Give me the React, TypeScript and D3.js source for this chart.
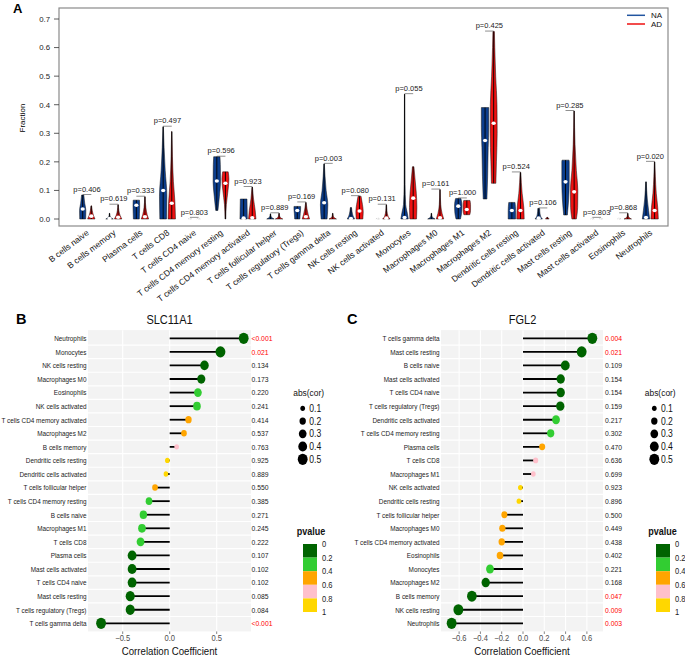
import React from "react";
import * as d3 from "d3";

// ---------------- Panel A data ----------------
const cellTypes = [
  "B cells naive", "B cells memory", "Plasma cells", "T cells CD8", "T cells CD4 naive",
  "T cells CD4 memory resting", "T cells CD4 memory activated", "T cells follicular helper",
  "T cells regulatory (Tregs)", "T cells gamma delta", "NK cells resting", "NK cells activated",
  "Monocytes", "Macrophages M0", "Macrophages M1", "Macrophages M2", "Dendritic cells resting",
  "Dendritic cells activated", "Mast cells resting", "Mast cells activated", "Eosinophils", "Neutrophils",
];
const pLabels = [
  "0.406", "0.619", "0.333", "0.497", "0.803", "0.596", "0.923", "0.889", "0.169", "0.003", "0.080",
  "0.131", "0.055", "0.161", "1.000", "0.425", "0.524", "0.106", "0.285", "0.803", "0.868", "0.020",
];
const fractionTicks = [0, 0.1, 0.2, 0.3, 0.4, 0.5, 0.6, 0.7];

// medians
const naMedian = [0.035, 0.002, 0.048, 0.1, 0, 0.133, 0.003, 0, 0.03, 0.057, 0.002, 0, 0.005, 0, 0.045, 0.275, 0.03, 0.003, 0.13, 0, 0, 0.005];
const adMedian = [0.01, 0.006, 0.008, 0.055, 0, 0.125, 0.004, 0, 0.008, 0, 0.028, 0.003, 0.073, 0.004, 0.033, 0.335, 0.03, 0, 0.095, 0, 0, 0.03];

// violin outlines: [value, relative half width] from bottom to top
type Prof = [number, number][];
const naProfile: Prof[] = [
  [[0, 0.8], [0.03, 0.85], [0.055, 0.55], [0.084, 0.3]],
  [[0, 1], [0.005, 0.35], [0.012, 0.12], [0.02, 0.05]],
  [[0, 0.8], [0.02, 0.85], [0.045, 0.9], [0.066, 0.85]],
  [[0, 0.9], [0.08, 1], [0.17, 0.55], [0.25, 0.25], [0.323, 0.06]],
  [[0, 0.5], [0.004, 0.1]],
  [[0.03, 0.3], [0.08, 0.7], [0.13, 1], [0.19, 0.95], [0.218, 0.85]],
  [[0, 1], [0.035, 0.95], [0.07, 0.9]],
  [[0, 1], [0.005, 0.35], [0.012, 0.12], [0.018, 0.05]],
  [[0, 0.7], [0.02, 0.8], [0.035, 0.9], [0.044, 0.9]],
  [[0, 0.8], [0.05, 1], [0.1, 0.55], [0.15, 0.25], [0.193, 0.06]],
  [[0, 1], [0.01, 0.6], [0.025, 0.3], [0.04, 0.15]],
  [[0, 0.5], [0.004, 0.1]],
  [[0, 1], [0.02, 0.75], [0.05, 0.3], [0.12, 0.12], [0.25, 0.07], [0.437, 0.04]],
  [[0, 1], [0.005, 0.35], [0.012, 0.12], [0.02, 0.05]],
  [[0, 0.6], [0.02, 0.9], [0.045, 1], [0.065, 0.85], [0.072, 0.7]],
  [[0.07, 0.5], [0.15, 0.7], [0.25, 0.85], [0.32, 1], [0.39, 1]],
  [[0, 1], [0.03, 1], [0.058, 0.85]],
  [[0, 1], [0.01, 0.5], [0.025, 0.3], [0.037, 0.25]],
  [[0.014, 0.5], [0.07, 0.85], [0.13, 1], [0.2, 1], [0.206, 0.95]],
  [[0, 0.5], [0.004, 0.1]],
  [[0, 0.5], [0.004, 0.1]],
  [[0, 1], [0.03, 0.7], [0.07, 0.35], [0.13, 0.08]],
];
const adProfile: Prof[] = [
  [[0, 1], [0.012, 0.6], [0.03, 0.25], [0.046, 0.08]],
  [[0, 1], [0.012, 0.55], [0.03, 0.2], [0.05, 0.06]],
  [[0, 1], [0.015, 0.6], [0.04, 0.25], [0.078, 0.06]],
  [[0, 1], [0.06, 0.85], [0.13, 0.45], [0.22, 0.18], [0.306, 0.05]],
  [[0, 0.5], [0.004, 0.1]],
  [[0, 0.1], [0.05, 0.25], [0.1, 0.7], [0.14, 0.95], [0.165, 0.75]],
  [[0, 1], [0.03, 0.8], [0.07, 0.35], [0.112, 0.06]],
  [[0, 1], [0.005, 0.35], [0.013, 0.12], [0.02, 0.05]],
  [[0, 1], [0.015, 0.65], [0.035, 0.3], [0.058, 0.06]],
  [[0, 1], [0.005, 0.35], [0.012, 0.12], [0.02, 0.05]],
  [[0, 0.9], [0.025, 1], [0.05, 0.8], [0.08, 0.4]],
  [[0, 1], [0.01, 0.45], [0.03, 0.15], [0.05, 0.05]],
  [[0, 0.9], [0.04, 1], [0.09, 0.85], [0.14, 0.5], [0.183, 0.2]],
  [[0, 1], [0.02, 0.55], [0.05, 0.2], [0.103, 0.05]],
  [[0.015, 0.8], [0.03, 1], [0.05, 1], [0.065, 0.85]],
  [[0.125, 0.6], [0.2, 0.75], [0.3, 0.95], [0.4, 0.9], [0.5, 0.55], [0.6, 0.3], [0.656, 0.2]],
  [[0, 1], [0.04, 0.9], [0.09, 0.45], [0.163, 0.1]],
  [[0, 0.5], [0.006, 0.1]],
  [[0, 0.6], [0.04, 0.95], [0.1, 1], [0.17, 0.6], [0.26, 0.25], [0.378, 0.06]],
  [[0, 0.5], [0.004, 0.1]],
  [[0, 1], [0.005, 0.35], [0.012, 0.12], [0.02, 0.05]],
  [[0, 1], [0.04, 0.85], [0.09, 0.45], [0.15, 0.2], [0.2, 0.06]],
];
const groupNames = ["NA", "AD"];
const groupColors = ["#0b3d8c", "#ee1111"];

// ---------------- Panel B data (SLC11A1) ----------------
const bCells = [
  "Neutrophils", "Monocytes", "NK cells resting", "Macrophages M0", "Eosinophils", "NK cells activated",
  "T cells CD4 memory activated", "Macrophages M2", "B cells memory", "Dendritic cells resting",
  "Dendritic cells activated", "T cells follicular helper", "T cells CD4 memory resting", "B cells naive",
  "Macrophages M1", "T cells CD8", "Plasma cells", "Mast cells activated", "T cells CD4 naive",
  "Mast cells resting", "T cells regulatory (Tregs)", "T cells gamma delta",
];
const bCor = [0.787, 0.54, 0.37, 0.336, 0.3, 0.29, 0.2, 0.152, 0.074, -0.025, -0.04, -0.156, -0.22, -0.28, -0.295, -0.31, -0.4, -0.4, -0.4, -0.42, -0.42, -0.73];
const bP = ["<0.001", "0.021", "0.134", "0.173", "0.220", "0.241", "0.414", "0.537", "0.763", "0.925", "0.889", "0.550", "0.385", "0.271", "0.245", "0.222", "0.107", "0.102", "0.102", "0.085", "0.084", "<0.001"];
const bTicks = [-0.5, 0, 0.5];

// ---------------- Panel C data (FGL2) ----------------
const cCells = [
  "T cells gamma delta", "Mast cells resting", "B cells naive", "Mast cells activated", "T cells CD4 naive",
  "T cells regulatory (Tregs)", "Dendritic cells activated", "T cells CD4 memory resting", "Plasma cells",
  "T cells CD8", "Macrophages M1", "NK cells activated", "Dendritic cells resting", "T cells follicular helper",
  "Macrophages M0", "T cells CD4 memory activated", "Eosinophils", "Monocytes", "Macrophages M2",
  "B cells memory", "NK cells resting", "Neutrophils",
];
const cCor = [0.651, 0.551, 0.397, 0.354, 0.354, 0.35, 0.31, 0.26, 0.18, 0.119, 0.097, -0.025, -0.038, -0.175, -0.194, -0.2, -0.216, -0.31, -0.35, -0.48, -0.607, -0.67];
const cP = ["0.004", "0.021", "0.109", "0.154", "0.154", "0.159", "0.217", "0.302", "0.470", "0.636", "0.699", "0.923", "0.896", "0.500", "0.449", "0.438", "0.402", "0.221", "0.168", "0.047", "0.009", "0.003"];
const cTicks = [-0.6, -0.4, -0.2, 0, 0.2, 0.4, 0.6];

const sizeBreaks = [0.1, 0.2, 0.3, 0.4, 0.5];
const pBreaks = ["0", "0.2", "0.4", "0.6", "0.8", "1"];
const pColors = ["#006400", "#32CD32", "#FFA500", "#FFC0CB", "#FFD700"];

const FONT = "'Liberation Sans', Arial, Helvetica, sans-serif";

function T(props: {
  x: number; y: number; size: number; children: React.ReactNode; anchor?: string; sx?: number;
  fill?: string; weight?: string | number; rotate?: number;
}) {
  const { x, y, size, children, anchor = "start", sx = 1, fill = "#000", weight = "normal", rotate = 0 } = props;
  return (
    <text
      transform={`translate(${x},${y}) rotate(${rotate}) scale(${sx},1)`}
      fontSize={size}
      fontFamily={FONT}
      textAnchor={anchor}
      fill={fill}
      fontWeight={weight}
    >
      {children}
    </text>
  );
}

function PanelA() {
  const x = d3.scalePoint<string>().domain(cellTypes).range([87, 650.3]);
  const y = d3.scaleLinear().domain([0, 0.7]).range([219, 19]);
  const HW = 3.7;
  const off = 4.3;
  const left = 59, right = 668, top = 8, bottom = 226;

  const violin = (cx: number, prof: Prof) =>
    d3
      .area<[number, number]>()
      .y((d) => y(d[0]))
      .x0((d) => cx - d[1] * HW)
      .x1((d) => cx + d[1] * HW)
      .curve(d3.curveMonotoneY)(prof) || "";

  return (
    <g>
      <T x={13} y={13} size={13} weight="bold">A</T>
      <rect x={left} y={top} width={right - left} height={bottom - top} fill="none" stroke="#8a8a8a" strokeWidth={1.2} />
      {fractionTicks.map((t) => (
        <g key={t}>
          <line x1={left - 5} x2={left} y1={y(t)} y2={y(t)} stroke="#333" strokeWidth={0.8} />
          <T x={50} y={y(t) + 2.8} size={7.8} anchor="end" fill="#222">{t.toFixed(1)}</T>
        </g>
      ))}
      <T x={25} y={118} size={8} anchor="middle" rotate={-90}>Fraction</T>

      {cellTypes.map((c, i) => {
        const cx = x(c) as number;
        const profs = [naProfile[i], adProfile[i]];
        const meds = [naMedian[i], adMedian[i]];
        const maxV = Math.max(naProfile[i][naProfile[i].length - 1][0], adProfile[i][adProfile[i].length - 1][0]);
        const tiny = (p: Prof) => p[p.length - 1][0] < 0.006;
        return (
          <g key={c}>
            {profs.map((p, g) => {
              const vx = cx + (g === 0 ? -off : off);
              const lo = p[0][0];
              const hi = p[p.length - 1][0];
              if (tiny(p)) {
                return (
                  <path key={g} d={violin(vx, p)} fill="none" stroke="#bbb" strokeWidth={0.6} strokeDasharray="1.5,1.5" />
                );
              }
              return (
                <g key={g}>
                  <path d={violin(vx, p)} fill={groupColors[g]} stroke="#111" strokeWidth={0.5} />
                  <line x1={vx} x2={vx} y1={y(lo)} y2={y(hi)} stroke="#000" strokeWidth={0.9} />
                  {meds[g] > 0.001 && <ellipse cx={vx} cy={y(meds[g])} rx={2.1} ry={1.8} fill="#fff" />}
                </g>
              );
            })}
            <line x1={cx - off} x2={cx + off} y1={y(maxV) - 0.5} y2={y(maxV) - 0.5} stroke="#444" strokeWidth={0.6} />
            <T x={cx} y={y(maxV) - 3.3} size={7.5} anchor="middle" fill="#222">{`p=${pLabels[i]}`}</T>
            <T x={cx + 2.5} y={234} size={8.5} anchor="end" rotate={-37} fill="#111">{c}</T>
          </g>
        );
      })}

      {groupNames.map((g, k) => (
        <g key={g}>
          <line x1={627} x2={645} y1={15.3 + k * 8.7} y2={15.3 + k * 8.7} stroke={k === 0 ? "#2255a0" : "#ee1111"} strokeWidth={1.5} />
          <T x={651} y={18.3 + k * 8.7} size={8} fill="#111">{g}</T>
        </g>
      ))}
    </g>
  );
}

function Lollipop(props: {
  letter: string; letterX: number; title: string; titleX: number;
  cells: string[]; cors: number[]; ps: string[]; ticks: number[];
  tickPx: [number, number]; tickVals: [number, number];
  panelL: number; panelR: number; pTextX: number;
  legX: number; barX: number;
}) {
  const { letter, letterX, title, titleX, cells, cors, ps, ticks, tickPx, tickVals, panelL, panelR, pTextX, legX, barX } = props;
  const y = d3.scalePoint<string>().domain(cells).range([338.3, 623.3]);
  const step = y.step();
  const x = d3.scaleLinear().domain(tickVals).range(tickPx);
  const area = d3.scaleLinear().domain([0.1, 0.5]).range([7.0, 31.4]).clamp(true);
  const ry = (v: number) => Math.sqrt(area(Math.abs(v)));
  const pNum = (s: string) => (s.startsWith("<") ? 0.0005 : +s);
  const col = (p: number) => pColors[Math.min(4, Math.floor(p / 0.2))];
  const top = 338.3 - step * 0.6;
  const bot = 623.3 + step * 0.6;
  const fmt = (t: number) => (t < 0 ? "\u2212" : "") + Math.abs(t).toFixed(1);
  const SX = 0.86;
  const barY0 = 544, barH = 13.6;

  return (
    <g>
      <T x={letterX} y={324} size={14.5} weight="bold">{letter}</T>
      <T x={titleX} y={323.5} size={12.5} anchor="middle" sx={0.88} fill="#111">{title}</T>
      <rect x={panelL} y={top} width={panelR - panelL} height={bot - top} fill="#f3f3f3" />
      {cells.slice(1).map((c) => {
        const yy = (y(c) as number) - step / 2;
        return <line key={c} x1={panelL} x2={panelR} y1={yy} y2={yy} stroke="#fff" strokeWidth={1.2} />;
      })}
      {ticks.map((t) => (
        <line key={t} x1={x(t)} x2={x(t)} y1={top} y2={bot} stroke="#fff" strokeWidth={1.1} />
      ))}
      {cells.map((c, i) => {
        const yy = y(c) as number;
        const r = ry(cors[i]);
        const p = pNum(ps[i]);
        return (
          <g key={c}>
            <T x={panelL - 1.5} y={yy + 2.8} size={7.9} sx={0.81} anchor="end" fill="#222">{c}</T>
            <line x1={x(0)} x2={x(cors[i])} y1={yy} y2={yy} stroke="#000" strokeWidth={1.8} />
            <ellipse cx={x(cors[i])} cy={yy} rx={r * 0.88} ry={r} fill={col(p)} />
            <T x={pTextX} y={yy + 2.8} size={7.9} sx={SX} fill={p < 0.05 ? "#ff0000" : "#222"}>{ps[i]}</T>
          </g>
        );
      })}
      {ticks.map((t) => (
        <g key={t}>
          <line x1={x(t)} x2={x(t)} y1={bot} y2={bot + 2.5} stroke="#333" strokeWidth={0.6} />
          <T x={x(t)} y={641} size={8.8} sx={SX} anchor="middle" fill="#4d4d4d">{fmt(t)}</T>
        </g>
      ))}
      <T x={(panelL + panelR) / 2} y={654.5} size={11.8} sx={0.82} anchor="middle" fill="#111">Correlation Coefficient</T>

      {/* size legend */}
      <T x={legX - 9.5} y={395.5} size={9.8} sx={SX} fill="#111">abs(cor)</T>
      {sizeBreaks.map((s, k) => {
        const r = ry(s);
        const yy = 408.3 + k * 12.75;
        return (
          <g key={s}>
            <ellipse cx={legX} cy={yy} rx={r * 0.88} ry={r} fill="#000" />
            <T x={legX + 6.6} y={yy + 3.6} size={10} sx={SX} fill="#111">{s.toFixed(1)}</T>
          </g>
        );
      })}
      {/* pvalue legend */}
      <T x={legX - 6} y={535} size={10.5} sx={SX} weight="bold" fill="#111">pvalue</T>
      {pColors.map((c, k) => (
        <rect key={c} x={barX} y={barY0 + k * barH} width={14} height={barH} fill={c} />
      ))}
      {pBreaks.map((b, k) => (
        <T key={b} x={barX + 19} y={barY0 + k * barH + 3.2} size={8.8} sx={SX} fill="#222">{b}</T>
      ))}
    </g>
  );
}

export default function App() {
  return (
    <svg width={685} height={656} style={{ display: "block", position: "absolute", left: 0, top: 0, background: "#fff" }}>
      <rect width={685} height={656} fill="#fff" />
      <PanelA />
      <Lollipop
        letter="B" letterX={16} title="SLC11A1" titleX={169.5}
        cells={bCells} cors={bCor} ps={bP} ticks={bTicks}
        tickVals={[-0.5, 0.5]} tickPx={[122.7, 216.7]}
        panelL={88} panelR={251} pTextX={251.5}
        legX={302.7} barX={303}
      />
      <Lollipop
        letter="C" letterX={347} title="FGL2" titleX={522.5}
        cells={cCells} cors={cCor} ps={cP} ticks={cTicks}
        tickVals={[-0.6, 0.6]} tickPx={[459.1, 586.9]}
        panelL={441} panelR={603} pTextX={605}
        legX={654.3} barX={656}
      />
    </svg>
  );
}
